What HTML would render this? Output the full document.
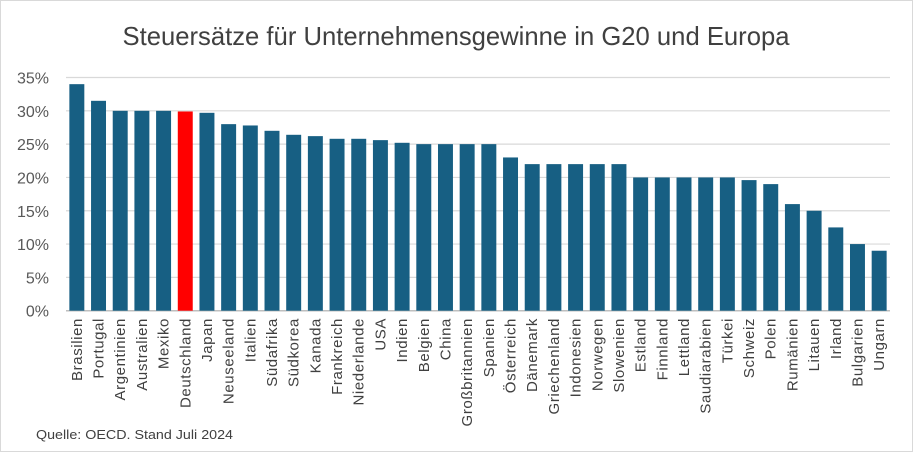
<!DOCTYPE html>
<html><head><meta charset="utf-8"><style>
html,body{margin:0;padding:0;background:#fff;}
svg{display:block;font-family:"Liberation Sans",sans-serif;}
</style></head><body>
<svg id="chart" width="913" height="452" viewBox="0 0 913 452">
<rect x="0.5" y="0.5" width="912" height="451" fill="#fff" stroke="#d9d9d9"/>
<text x="456" y="45" text-anchor="middle" font-size="26" fill="#404040" textLength="667" lengthAdjust="spacingAndGlyphs">Steuersätze für Unternehmensgewinne in G20 und Europa</text>
<g id="grid"></g><g id="bars"></g><g id="ylabels"></g><g id="xlabels"></g>
<text x="36" y="439" font-size="13" fill="#404040" textLength="197" lengthAdjust="spacingAndGlyphs">Quelle: OECD. Stand Juli 2024</text>
</svg>
<script>
const categories=["Brasilien","Portugal","Argentinien","Australien","Mexiko","Deutschland","Japan","Neuseeland","Italien","Südafrika","Südkorea","Kanada","Frankreich","Niederlande","USA","Indien","Belgien","China","Großbritannien","Spanien","Österreich","Dänemark","Griechenland","Indonesien","Norwegen","Slowenien","Estland","Finnland","Lettland","Saudiarabien","Türkei","Schweiz","Polen","Rumänien","Litauen","Irland","Bulgarien","Ungarn"];
const values=[34,31.5,30,30,30,29.9,29.7,28,27.8,27,26.4,26.2,25.8,25.8,25.6,25.2,25,25,25,25,23,22,22,22,22,22,20,20,20,20,20,19.6,19,16,15,12.5,10,9];
const highlight=["Deutschland"];
const yTicks=[0,5,10,15,20,25,30,35];
const NS="http://www.w3.org/2000/svg";
const x0=66,x1=890,yBase=310.7,yTop=77.5,yMax=35;
const band=(x1-x0)/categories.length;
const y=v=>yBase-(v/yMax)*(yBase-yTop);
const xb=i=>x0+i*band;
function mk(t,a,p){const e=document.createElementNS(NS,t);for(const k in a)e.setAttribute(k,a[k]);p.appendChild(e);return e;}
const g=document.getElementById('grid'),yl=document.getElementById('ylabels');
yTicks.forEach(t=>{
 const l=mk('line',{x1:x0,x2:x1,y1:y(t),y2:y(t),stroke:t===0?'#bfbfbf':'#d9d9d9','stroke-width':t===0?1.5:1.2},g);
 
 
 const tx=mk('text',{x:49,y:y(t)+6,'text-anchor':'end','font-size':16,fill:'#595959'},yl);
 tx.textContent=t+'%';
 
 
});
const b=document.getElementById('bars'),xl=document.getElementById('xlabels');
categories.forEach((c,i)=>{
 const bw=band*0.69,bx=xb(i)+(band-bw)/2;
 const r=mk('rect',{x:bx,y:y(values[i]),width:bw,height:yBase-y(values[i]),fill:highlight.includes(c)?'#ff0000':'#175f83'},b);
 
 
 const cx=xb(i)+band/2+5;
 const t=mk('text',{x:cx,y:318,'text-anchor':'end','font-size':15,'letter-spacing':0.6,fill:'#404040',transform:`rotate(-90 ${cx} 318)`},xl);
 t.textContent=c;
 
 
});
</script>
</body></html>
